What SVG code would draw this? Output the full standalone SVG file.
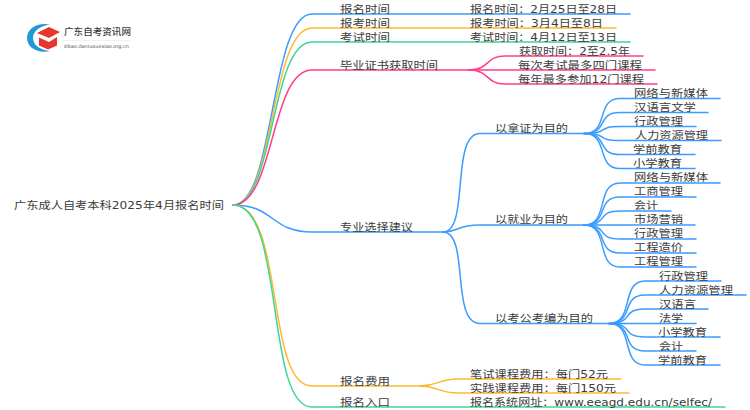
<svg xmlns="http://www.w3.org/2000/svg" width="750" height="410" viewBox="0 0 750 410">
<style>
text{font-family:"DejaVu Sans","Noto Sans CJK SC",sans-serif;font-size:10.5px;fill:#3c3c3c}
.c path{fill:none;stroke-width:1.5;stroke-linecap:round}
.b{stroke:#3a9cff}.o{stroke:#ffb92e}.g{stroke:#3ed598}.p{stroke:#ff3d8b}
</style>
<rect width="750" height="410" fill="#fff"/>
<g id="connectors" class="c">
<path class="b" d="M233 205C275 205 270 14 312 14H630"/>
<path class="o" d="M233 205C275 205 270 28 312 28H616"/>
<path class="g" d="M233 205C275 205 270 42 312 42H630"/>
<path class="p" d="M233 205C275 205 270 70 312 70H469"/>
<path class="p" d="M469 70C490 70 485 56 505 56H643"/>
<path class="p" d="M469 70H655"/>
<path class="p" d="M469 70C490 70 485 84 505 84H657"/>
<path class="b" d="M233 205C275 205 270 232 312 232H443"/>
<path class="b" d="M443 232C470 232 450 133.600 480 133.600H584"/>
<path class="b" d="M443 232C460 232 455 225 480 225H584"/>
<path class="b" d="M443 232C470 232 450 323.500 480 323.500H609"/>
<path class="b" d="M584 133.600C610 133.600 595 98.500 620 98.500H720"/>
<path class="b" d="M584 133.600C610 133.600 595 112.600 620 112.600H708"/>
<path class="b" d="M584 133.600C610 133.600 595 126.600 620 126.600H696"/>
<path class="b" d="M584 133.600C610 133.600 595 140.500 620 140.500H721"/>
<path class="b" d="M584 133.600C610 133.600 595 154.500 620 154.500H695"/>
<path class="b" d="M584 133.600C610 133.600 595 168.600 620 168.600H695"/>
<path class="b" d="M584 225C610 225 595 183 620 183H720"/>
<path class="b" d="M584 225C610 225 595 197 620 197H696"/>
<path class="b" d="M584 225C610 225 595 211 620 211H671"/>
<path class="b" d="M584 225H695"/>
<path class="b" d="M584 225C610 225 595 239 620 239H696"/>
<path class="b" d="M584 225C610 225 595 253 620 253H696"/>
<path class="b" d="M584 225C610 225 595 267 620 267H696"/>
<path class="b" d="M609 323.500C635 323.500 620 281 645 281H721"/>
<path class="b" d="M609 323.500C635 323.500 620 295 645 295H746"/>
<path class="b" d="M609 323.500C635 323.500 620 309 645 309H708"/>
<path class="b" d="M609 323.500H696"/>
<path class="b" d="M609 323.500C635 323.500 620 337 645 337H720"/>
<path class="b" d="M609 323.500C635 323.500 620 351 645 351H696"/>
<path class="b" d="M609 323.500C635 323.500 620 365 645 365H720"/>
<path class="o" d="M233 205C285 205 265 386 312 386H420"/>
<path class="o" d="M420 386C438 386 438 379 458 379H621"/>
<path class="o" d="M420 386C438 386 438 393 458 393H629"/>
<path class="g" d="M233 205C285 205 265 407 312 407H725"/>
</g>
<g id="logo">
<path d="M50 24.500C38 22 27 28 27 38C27 47 37 54 50 51C40 50 33 45 33 38C33 31 40 26 50 24.500Z" fill="#1f9ad6"/>
<path d="M37 33L49 27L60 32L49 38Z" fill="#e8352e"/>
<path d="M39 37.500L49 42L57 37V45.500L48 49.500L39 45.500Z" fill="#e8352e"/>
<text x="64" y="35" font-size="9.500" style="font-size:9.500px;font-family:'Noto Sans CJK SC',sans-serif;font-weight:500" textLength="67" lengthAdjust="spacingAndGlyphs">广东自考资讯网</text>
<path d="M63 40.500H131" fill="none" stroke="#e0e0e0" stroke-width="0.500"/>
<text x="64" y="48" style="font-size:5px;fill:#555" textLength="65" lengthAdjust="spacingAndGlyphs">zikao.daniuxuexiao.org.cn</text>
</g>
<g id="root"><text x="14" y="209" textLength="210" lengthAdjust="spacingAndGlyphs">广东成人自考本科2025年4月报名时间</text></g>
<g id="n1"><text x="340" y="13" textLength="50" lengthAdjust="spacingAndGlyphs">报名时间</text><text x="470" y="13" textLength="147" lengthAdjust="spacingAndGlyphs">报名时间：2月25日至28日</text></g>
<g id="n2"><text x="340" y="27" textLength="50" lengthAdjust="spacingAndGlyphs">报考时间</text><text x="470" y="27" textLength="133" lengthAdjust="spacingAndGlyphs">报考时间：3月4日至8日</text></g>
<g id="n3"><text x="340" y="41" textLength="50" lengthAdjust="spacingAndGlyphs">考试时间</text><text x="470" y="41" textLength="147" lengthAdjust="spacingAndGlyphs">考试时间：4月12日至13日</text></g>
<g id="n4"><text x="340" y="69" textLength="98" lengthAdjust="spacingAndGlyphs">毕业证书获取时间</text>
<text x="519" y="55" textLength="111" lengthAdjust="spacingAndGlyphs">获取时间：2至2.5年</text>
<text x="518" y="69" textLength="124" lengthAdjust="spacingAndGlyphs">每次考试最多四门课程</text>
<text x="518" y="83" textLength="126" lengthAdjust="spacingAndGlyphs">每年最多参加12门课程</text></g>
<g id="n5"><text x="340" y="231" textLength="73" lengthAdjust="spacingAndGlyphs">专业选择建议</text>
<text x="495" y="132" textLength="73" lengthAdjust="spacingAndGlyphs">以拿证为目的</text>
<text x="634" y="97" textLength="74" lengthAdjust="spacingAndGlyphs">网络与新媒体</text>
<text x="634" y="111" textLength="62" lengthAdjust="spacingAndGlyphs">汉语言文学</text>
<text x="634" y="125" textLength="49" lengthAdjust="spacingAndGlyphs">行政管理</text>
<text x="635" y="139" textLength="73" lengthAdjust="spacingAndGlyphs">人力资源管理</text>
<text x="633" y="153" textLength="49" lengthAdjust="spacingAndGlyphs">学前教育</text>
<text x="633" y="167" textLength="49" lengthAdjust="spacingAndGlyphs">小学教育</text>
<text x="495" y="223" textLength="73" lengthAdjust="spacingAndGlyphs">以就业为目的</text>
<text x="634" y="181" textLength="74" lengthAdjust="spacingAndGlyphs">网络与新媒体</text>
<text x="634" y="195" textLength="49" lengthAdjust="spacingAndGlyphs">工商管理</text>
<text x="634" y="209" textLength="24" lengthAdjust="spacingAndGlyphs">会计</text>
<text x="634" y="223" textLength="49" lengthAdjust="spacingAndGlyphs">市场营销</text>
<text x="634" y="237" textLength="49" lengthAdjust="spacingAndGlyphs">行政管理</text>
<text x="634" y="251" textLength="49" lengthAdjust="spacingAndGlyphs">工程造价</text>
<text x="634" y="265" textLength="49" lengthAdjust="spacingAndGlyphs">工程管理</text>
<text x="495" y="322" textLength="98" lengthAdjust="spacingAndGlyphs">以考公考编为目的</text>
<text x="659" y="280" textLength="49" lengthAdjust="spacingAndGlyphs">行政管理</text>
<text x="659" y="294" textLength="74" lengthAdjust="spacingAndGlyphs">人力资源管理</text>
<text x="659" y="308" textLength="37" lengthAdjust="spacingAndGlyphs">汉语言</text>
<text x="659" y="322" textLength="24" lengthAdjust="spacingAndGlyphs">法学</text>
<text x="658" y="336" textLength="49" lengthAdjust="spacingAndGlyphs">小学教育</text>
<text x="659" y="350" textLength="24" lengthAdjust="spacingAndGlyphs">会计</text>
<text x="658" y="364" textLength="49" lengthAdjust="spacingAndGlyphs">学前教育</text></g>
<g id="n6"><text x="340" y="385" textLength="50" lengthAdjust="spacingAndGlyphs">报名费用</text>
<text x="470" y="378" textLength="138" lengthAdjust="spacingAndGlyphs">笔试课程费用：每门52元</text>
<text x="470" y="392" textLength="146" lengthAdjust="spacingAndGlyphs">实践课程费用：每门150元</text></g>
<g id="n7"><text x="340" y="406" textLength="50" lengthAdjust="spacingAndGlyphs">报名入口</text>
<text x="470" y="406" textLength="242" lengthAdjust="spacingAndGlyphs">报名系统网址：www.eeagd.edu.cn/selfec/</text></g>
</svg>
